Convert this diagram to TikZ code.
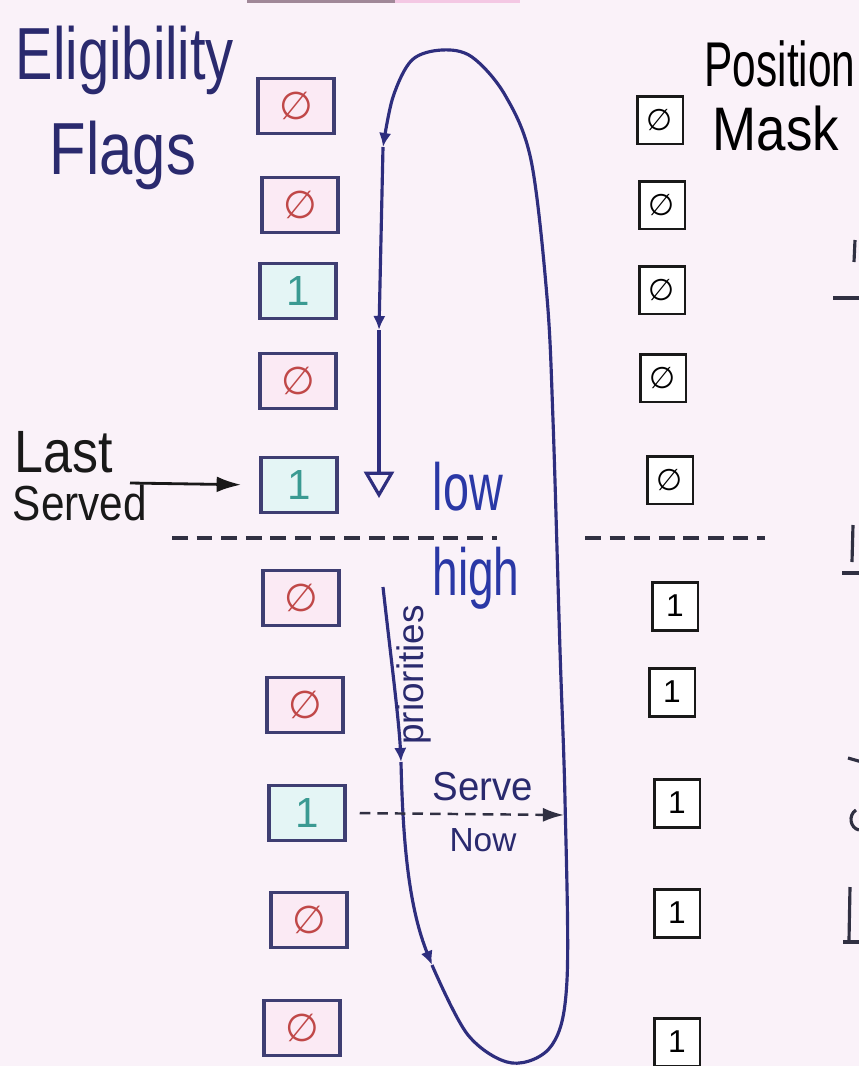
\documentclass[tikz,border=0pt]{standalone}
\usepackage{fontspec}
\usepackage{graphicx}
\setmainfont{Liberation Sans}
\newfontfamily\symfont{DejaVu Sans}
\usetikzlibrary{arrows.meta}
\definecolor{bg}{HTML}{FAF2F9}
\definecolor{boxc}{HTML}{3E3E72}
\definecolor{zfill}{HTML}{FBEAF4}
\definecolor{ofill}{HTML}{E4F5F5}
\definecolor{zred}{HTML}{C04848}
\definecolor{oteal}{HTML}{3A9A92}
\definecolor{navyt}{HTML}{2A2A6E}
\definecolor{bluet}{HTML}{2A38A6}
\definecolor{loopc}{HTML}{2E2E7E}
\definecolor{dashc}{HTML}{303042}
\definecolor{mauve}{HTML}{A08898}
\definecolor{pinkstrip}{HTML}{F4C8E4}
\newcommand\hwtext[2]{\scalebox{#1}[1]{#2}}
\begin{document}
\begin{tikzpicture}[x=0.02cm,y=-0.02cm,
  flagbox/.style={draw=boxc, line width=2pt, minimum width=1.52cm, minimum height=1.1cm, inner sep=0pt},
  zero/.style={flagbox, fill=zfill, text=zred, font=\symfont\fontsize{22}{22}\selectfont},
  one/.style={flagbox, fill=ofill, text=oteal, font=\fontsize{24}{24}\selectfont},
  maskbox/.style={draw=black!90, line width=1.7pt, minimum width=0.92cm, minimum height=0.96cm, inner sep=0pt, fill=white},
  mzero/.style={maskbox, font=\symfont\fontsize{17}{17}\selectfont},
  mone/.style={maskbox, font=\fontsize{18}{18}\selectfont},
  txt/.style={inner sep=0pt, anchor=center},
  loopline/.style={draw=loopc, line width=1.8pt},
  midtip/.style={-{Latex[length=8pt,width=7pt]}},
  sep/.style={draw=dashc, line width=1.8pt, dash pattern=on 9pt off 5pt},
  edgefrag/.style={draw=dashc, line width=1.8pt}
]
\useasboundingbox (0,0) rectangle (859,1066);
\fill[bg] (0,0) rectangle (859,1066);
\fill[mauve] (247,0) rectangle (395,3);
\fill[pinkstrip] (395,0) rectangle (520,3);

% titles
\node[txt, text=navyt, font=\fontsize{42}{42}\selectfont] (elig) at (125,60) {\hwtext{0.76}{Eligibility}};
\node[txt, text=navyt, font=\fontsize{42}{42}\selectfont] (flags) at (123,155) {\hwtext{0.81}{Flags}};
\node[txt, text=black, font=\fontsize{36}{36}\selectfont] (pos) at (780,64) {\hwtext{0.67}{Position}};
\node[txt, text=black, font=\fontsize{35}{35}\selectfont] (mask) at (776,129) {\hwtext{0.86}{Mask}};

% eligibility flags
\node[zero] (f1) at (296,106) {∅};
\node[zero] (f2) at (300,205) {∅};
\node[one] (f3) at (298,291) {1};
\node[zero] (f4) at (298,381) {∅};
\node[one] (f5) at (299,485) {1};
\node[zero] (f6) at (301,598) {∅};
\node[zero] (f7) at (305,705) {∅};
\node[one] (f8) at (307,813) {1};
\node[zero] (f9) at (309,920) {∅};
\node[zero] (f10) at (302,1028) {∅};

% position mask
\node[mzero] (m1) at (660,120) {∅};
\node[mzero] (m2) at (662,205) {∅};
\node[mzero] (m3) at (662,290) {∅};
\node[mzero] (m4) at (663,378) {∅};
\node[mzero] (m5) at (670,480) {∅};
\node[mone] (m6) at (675,606) {1};
\node[mone] (m7) at (672,692) {1};
\node[mone] (m8) at (677,803) {1};
\node[mone] (m9) at (677,913) {1};
\node[mone] (m10) at (677,1042) {1};

% last served
\node[txt, text=black!90, font=\fontsize{34}{34}\selectfont] (last) at (64,452) {\hwtext{0.87}{Last}};
\node[txt, text=black!90, font=\fontsize{28}{28}\selectfont] (served) at (80,503) {\hwtext{0.86}{Served}};
\coordinate (lsstart) at (130,483);
\draw[black!90, line width=1.6pt, -{Latex[length=14pt,width=9pt]}, shorten >=0.36cm] (lsstart) -- (f5.west);

% separators
\coordinate (sepL1) at (172,538);
\coordinate (sepL2) at (497,538);
\coordinate (sepR1) at (585,538);
\coordinate (sepR2) at (765,538);
\draw[sep] (sepL1) -- (sepL2);
\draw[sep] (sepR1) -- (sepR2);

% low / high
\node[txt, text=bluet, font=\fontsize{38}{38}\selectfont] (low) at (468,487) {\hwtext{0.70}{low}};
\node[txt, text=bluet, font=\fontsize{38}{38}\selectfont] (high) at (476,578) {\hwtext{0.69}{high}};

% loop
\coordinate (lpA) at (383,587);
\coordinate (lpB) at (401,762);
\coordinate (lpC) at (432,965);
\coordinate (lpD) at (383,147);
\coordinate (lpE) at (379,330);
\coordinate (lpF) at (379,498);
\draw[loopline, midtip] (lpA) .. controls (390,650) and (399,720) .. (lpB);
\draw[loopline, midtip] (lpB) .. controls (403,850) and (410,910) .. (lpC);
\draw[loopline, midtip] plot[smooth, tension=0.55] coordinates {(lpC) (468,1035) (512,1063) (552,1045) (567,980) (565,800) (560,650) (553,420) (547,297) (531,160) (505,95) (472,57) (442,50) (412,60) (393,97) (lpD)};
\draw[loopline, midtip] (lpD) -- (lpE);
\draw[loopline, -{Triangle[open,length=15pt,width=17pt]}] (lpE) -- (lpF);

\node[txt, text=navyt, rotate=90, font=\fontsize{21}{21}\selectfont] (prio) at (414,675) {priorities};

% serve now
\node[txt, text=navyt, font=\fontsize{23}{23}\selectfont] (serve) at (483,787) {\hwtext{0.95}{Serve}};
\node[txt, text=navyt, font=\fontsize{19}{19}\selectfont] (now) at (483,840) {Now};
\coordinate (snend) at (564,815);
\draw[dashc, line width=1.4pt, dash pattern=on 6pt off 4pt, -{Latex[length=12pt,width=8pt]}, shorten <=0.26cm] (f8.east) -- (snend);

% fragments cut off at the right edge
\draw[edgefrag] (833,298) -- (862,298);
\draw[edgefrag] (855,240) -- (854,262);
\draw[edgefrag] (842,573) -- (862,573);
\draw[edgefrag] (853,525) -- (852,562);
\draw[edgefrag] (848,758) -- (862,762);
\draw[edgefrag] (856,810) .. controls (848,815) and (850,828) .. (859,830);
\draw[edgefrag] (850,887) -- (849,940);
\draw[edgefrag] (843,942) -- (862,942);
\end{tikzpicture}
\end{document}
